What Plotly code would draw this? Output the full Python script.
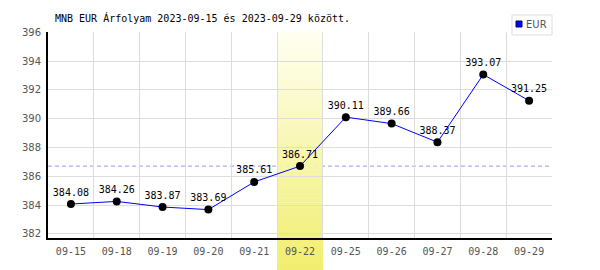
import plotly.graph_objects as go

dates = ["09-15", "09-18", "09-19", "09-20", "09-21", "09-22", "09-25", "09-26", "09-27", "09-28", "09-29"]
eur = [384.08, 384.26, 383.87, 383.69, 385.61, 386.71, 390.11, 389.66, 388.37, 393.07, 391.25]
highlight_date = "09-22"
title_text = "MNB EUR Árfolyam 2023-09-15 és 2023-09-29 között."
series_name = "EUR"

W, H = 600, 270
L, R, T, B = 48, 48, 32, 32
pw, ph = W - L - R, H - T - B

def px_x(px):
    return (px - L) / pw

def px_y(py):
    return (H - B - py) / ph

mono = "DejaVu Sans Mono"
hi = dates.index(highlight_date)
ref_val = eur[hi]

fig = go.Figure()
fig.add_trace(go.Scatter(
    x=dates, y=eur, mode="lines+markers+text",
    name=series_name,
    line=dict(color="#0000ff", width=1),
    marker=dict(color="#000000", size=8),
    text=[f"{v:.2f}" for v in eur],
    textposition="top center",
    textfont=dict(family=mono, size=10, color="#000000"),
    cliponaxis=False,
    showlegend=False,
))

shapes = []
# reference dashed line (value on highlighted day)
shapes.append(dict(type="line", xref="paper", yref="y", x0=0, x1=1, y0=ref_val, y1=ref_val,
                   line=dict(color="#9999ee", width=1, dash="4px,3px"), layer="between"))
# gradient highlight band made of thin strips
top_py, bot_py = T, H
n = 60
c0 = (255, 255, 242)
c1 = (241, 238, 110)
for i in range(n):
    y_a = top_py + (bot_py - top_py) * i / n
    y_b = top_py + (bot_py - top_py) * (i + 1) / n
    t = (i + 0.5) / n
    c = tuple(round(c0[k] + (c1[k] - c0[k]) * t) for k in range(3))
    shapes.append(dict(type="rect", xref="x", yref="paper",
                       x0=hi - 0.5, x1=hi + 0.5, y0=px_y(y_b), y1=px_y(y_a) + 0.002,
                       fillcolor="rgb(%d,%d,%d)" % c, line=dict(width=0), layer="between"))
# legend box
shapes.append(dict(type="rect", xref="paper", yref="paper",
                   x0=px_x(512), x1=px_x(552), y0=px_y(35), y1=px_y(15),
                   fillcolor="#ffffff", line=dict(color="#dddddd", width=1), layer="above"))
shapes.append(dict(type="rect", xref="paper", yref="paper",
                   x0=px_x(516), x1=px_x(522), y0=px_y(27), y1=px_y(21),
                   fillcolor="#0000ff", line=dict(color="#000066", width=1), layer="above"))

annotations = [
    dict(text=series_name, xref="paper", yref="paper", x=px_x(524), y=px_y(24.5),
         xanchor="left", yanchor="middle", showarrow=False,
         font=dict(family="DejaVu Sans", size=10, color="#555555")),
    dict(text=title_text, xref="paper", yref="paper", x=px_x(53), y=px_y(18),
         xanchor="left", yanchor="middle", showarrow=False,
         font=dict(family=mono, size=10, color="#000000")),
]

fig.update_layout(
    width=W, height=H,
    margin=dict(l=L, r=R, t=T, b=B),
    paper_bgcolor="#ffffff", plot_bgcolor="#ffffff",
    shapes=shapes, annotations=annotations,
    showlegend=False,
    xaxis=dict(type="category", range=[-0.5, len(dates) - 0.5], tickson="boundaries",
               showgrid=True, gridcolor="#dddddd", gridwidth=1,
               showline=True, linecolor="#000000", linewidth=2,
               ticks="", ticklabelstandoff=3,
               tickfont=dict(family=mono, size=10, color="#555555"),
               zeroline=False, fixedrange=True),
    yaxis=dict(range=[381.72, 396.02], dtick=2, tick0=382,
               showgrid=True, gridcolor="#dddddd", gridwidth=1,
               showline=True, linecolor="#000000", linewidth=2,
               ticks="", ticklabelstandoff=3,
               tickfont=dict(family="DejaVu Sans", size=10, color="#555555"),
               zeroline=False, fixedrange=True),
)

fig.write_html("out.html")
